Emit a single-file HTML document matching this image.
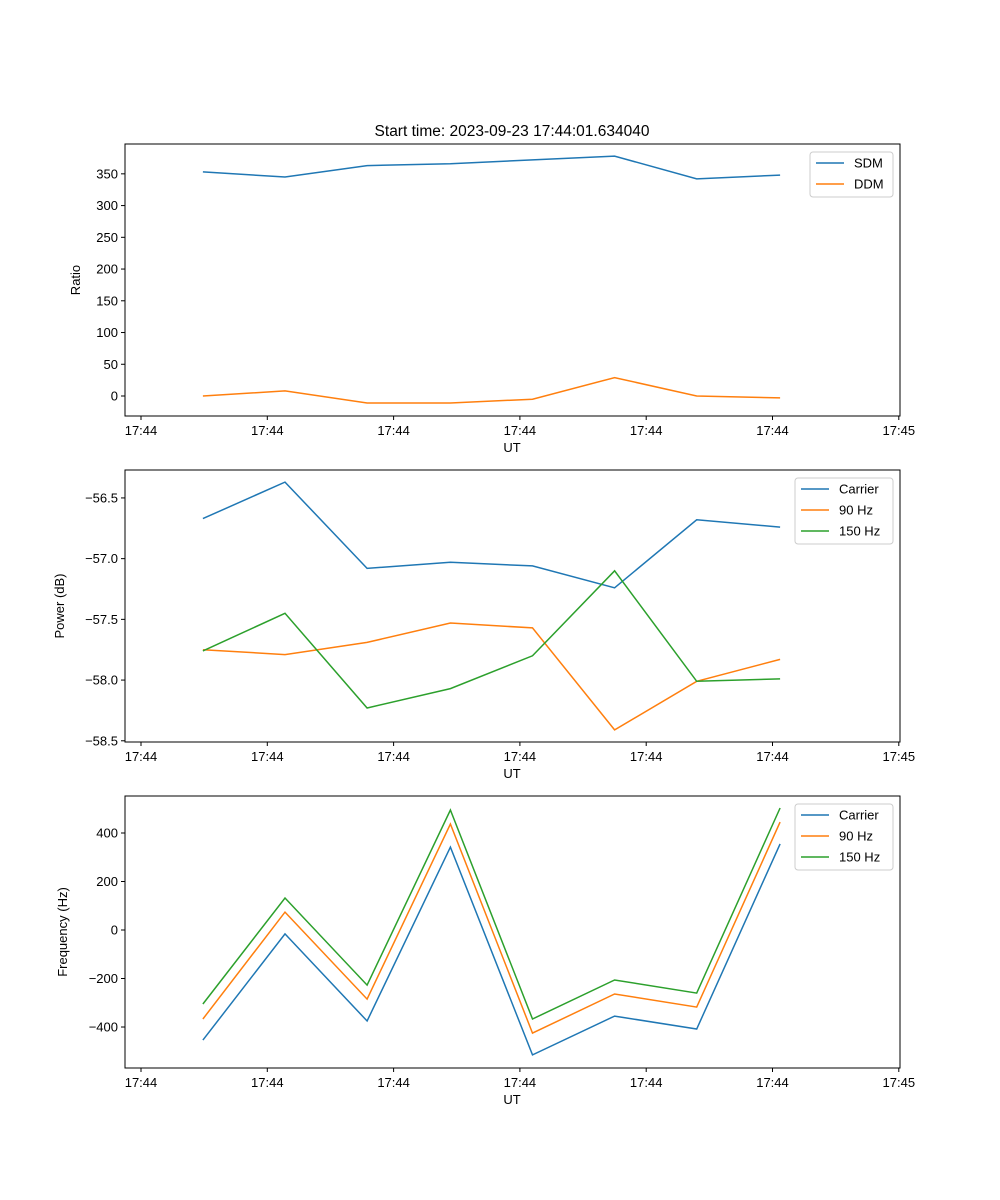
<!DOCTYPE html>
<html><head><meta charset="utf-8"><style>
body{margin:0;background:#fff}
svg{display:block;font-family:"Liberation Sans",sans-serif}
</style></head><body>
<svg id="fig" width="1000" height="1200"></svg>
<script>
const times=[4.9,11.4,17.9,24.5,31.0,37.5,44.0,50.6];
const xTicks=[0,10,20,30,40,50,60];
const xTickLabels=["17:44","17:44","17:44","17:44","17:44","17:44","17:45"];
const sdm=[353,345,363,366,372,378,342,348];
const ddm=[0,8,-11,-11,-5,29,0,-3];
const ratioTicks=[0,50,100,150,200,250,300,350];
const pCarrier=[-56.67,-56.37,-57.08,-57.03,-57.06,-57.24,-56.68,-56.74];
const p90=[-57.75,-57.79,-57.69,-57.53,-57.57,-58.41,-58.01,-57.83];
const p150=[-57.76,-57.45,-58.23,-58.07,-57.80,-57.10,-58.01,-57.99];
const powerTicks=[-56.5,-57.0,-57.5,-58.0,-58.5];
const powerTickLabels=["\u221256.5","\u221257.0","\u221257.5","\u221258.0","\u221258.5"];
const fCarrier=[-454,-16,-375,342,-515,-355,-408,355];
const f90=[-367,74,-285,437,-425,-264,-318,445];
const f150=[-305,132,-227,495,-367,-206,-260,503];
const freqTicks=[-400,-200,0,200,400];
const freqTickLabels=["\u2212400","\u2212200","0","200","400"];

const C1="#1f77b4",C2="#ff7f0e",C3="#2ca02c";
const svg=document.getElementById('fig');
const NS="http://www.w3.org/2000/svg";
function mk(tag,attrs,parent){const e=document.createElementNS(NS,tag);for(const k in attrs)e.setAttribute(k,attrs[k]);(parent||svg).appendChild(e);return e;}
const L=125,R=900;
const xs=t=>141+t*12.63;

function panel(name,top,bot,ymin,ymax,yt,ytl,ylabel,ylabX,series,legend){
  const g=mk('g',{});
  
  
  const ys=v=>bot-(v-ymin)/(ymax-ymin)*(bot-top);
  series.forEach(s=>{
    const pts=times.map((t,i)=>xs(t).toFixed(1)+','+ys(s.v[i]).toFixed(1)).join(' ');
    const p=mk('polyline',{points:pts,fill:'none',stroke:s.c,'stroke-width':1.5},g);
    
    
  });
  const fr=mk('rect',{x:L,y:top,width:R-L,height:bot-top,fill:'none',stroke:'#000','stroke-width':1},g);
  
  
  xTicks.forEach((t,i)=>{
    mk('line',{x1:xs(t),x2:xs(t),y1:bot,y2:bot+4,stroke:'#000'},g);
    const tx=mk('text',{x:xs(t),y:bot+19,'font-size':13,'text-anchor':'middle'},g);
    tx.textContent=xTickLabels[i];
    
    
  });
  yt.forEach((v,i)=>{
    mk('line',{x1:L-4,x2:L,y1:ys(v),y2:ys(v),stroke:'#000'},g);
    const tx=mk('text',{x:L-7,y:ys(v)+4.5,'font-size':13,'text-anchor':'end'},g);
    tx.textContent=ytl[i];
    
    
  });
  const xl=mk('text',{x:512,y:bot+36,'font-size':13,'text-anchor':'middle'},g);
  xl.textContent='UT';
  
  
  const cy=(top+bot)/2;
  const yl=mk('text',{x:ylabX,y:cy,'font-size':13,'text-anchor':'middle',transform:`rotate(-90 ${ylabX} ${cy})`},g);
  yl.textContent=ylabel;
  
  
  const lg=mk('g',{},g);
  
  
  mk('rect',{x:legend.x,y:top+8,width:893-legend.x,height:series.length*21+3,rx:3,fill:'#fff','fill-opacity':0.8,stroke:'#ccc'},lg);
  series.forEach((s,i)=>{
    const yy=top+19+i*21;
    mk('line',{x1:legend.x+6,x2:legend.x+34,y1:yy,y2:yy,stroke:s.c,'stroke-width':1.5},lg);
    const t=mk('text',{x:legend.x+44,y:yy+4.5,'font-size':13},lg);
    t.textContent=s.label;
    
    
  });
}
const title=mk('text',{x:512,y:136,'font-size':15.5,'text-anchor':'middle'});
title.textContent='Start time: 2023-09-23 17:44:01.634040';



panel('ratio',144,416,-31.5,397,ratioTicks,ratioTicks.map(String),'Ratio',80,
  [{id:'sdm',label:'SDM',c:C1,v:sdm},{id:'ddm',label:'DDM',c:C2,v:ddm}],{x:810});
panel('power',470,742,-58.51,-56.27,powerTicks,powerTickLabels,'Power (dB)',64,
  [{id:'carrier',label:'Carrier',c:C1,v:pCarrier},{id:'90hz',label:'90 Hz',c:C2,v:p90},{id:'150hz',label:'150 Hz',c:C3,v:p150}],{x:795});
panel('frequency',796,1068,-569,552.6,freqTicks,freqTickLabels,'Frequency (Hz)',67,
  [{id:'carrier',label:'Carrier',c:C1,v:fCarrier},{id:'90hz',label:'90 Hz',c:C2,v:f90},{id:'150hz',label:'150 Hz',c:C3,v:f150}],{x:795});
</script>
</body></html>
